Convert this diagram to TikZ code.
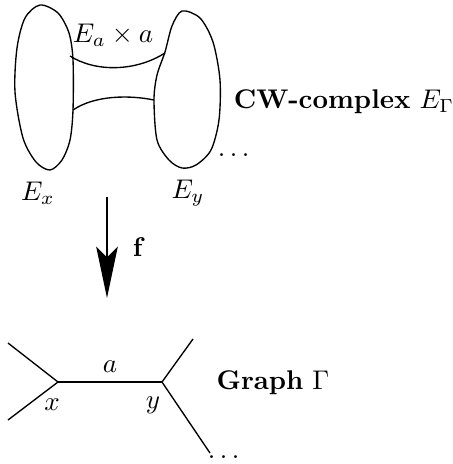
\documentclass[tikz,border=0pt]{standalone}
\usepackage{amsmath}
\usetikzlibrary{arrows.meta}

\begin{document}
\begin{tikzpicture}[x=0.37pt,y=-0.37pt,line width=0.5pt]
                \useasboundingbox (0,0) rectangle (453,464);

                % 1. Draw the two cells and the tube between them
                \draw plot[smooth cycle] coordinates {(40,5) (58,13) (69,33) (73,60) (73,110)
                    (70,140) (62,160) (50,170) (36,162) (23,138) (15,92) (17,48) (25,18)};
                \draw plot[smooth cycle] coordinates {(182,11) (200,18) (213,42) (220,80) (219,120)
                    (211,150) (196,165) (182,168) (169,160) (157,140) (154,100) (157,75) (165,52) (172,26)};
                \draw (70,56) .. controls (95,72) and (135,72) .. (165,53);
                \draw (73,110) .. controls (95,95) and (130,95) .. (154,100);

                \node (Ea) at (113,35) {$E_a \times a$};
                \node (Ex) at (38,193) {$E_x$};
                \node (Ey) at (188,193) {$E_y$};
                \node (cw) at (344,102) {$\textbf{CW-complex}\ E_\Gamma$};
                \node (dots1) at (236,155) {$\dots$};

                % 2. The map f
                \coordinate (top) at (107,197);
                \coordinate (bot) at (107,298);
                \draw[-{Stealth[length=19pt,width=8pt,inset=4pt]}] (top) -- (bot)
                    node[midway, right=6pt] {$\mathbf{f}$};

                % 3. Draw the graph
                \coordinate (x) at (58,382);
                \coordinate (y) at (162,382);
                \coordinate (x1) at (8,343);
                \coordinate (x2) at (8,420);
                \coordinate (y1) at (193,339);
                \coordinate (y2) at (210,453);
                \draw (x1) -- (x) -- (x2);
                \draw (y1) -- (y) -- (y2);
                \draw (x) -- (y) node[midway, above] {$a$};
                \node (xl) at (52,405) {$x$};
                \node (yl) at (153,405) {$y$};
                \node (graph) at (273,383) {$\textbf{Graph}\ \Gamma$};
                \node (dots2) at (226,457) {$\dots$};
            \end{tikzpicture}
\end{document}
